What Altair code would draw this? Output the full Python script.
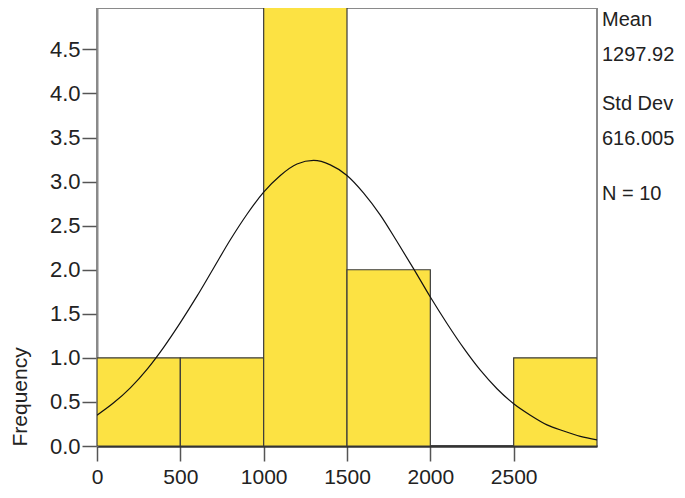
import altair as alt
import pandas as pd

# Histogram bins and frequencies
bin_start = [0, 500, 1000, 1500, 2000, 2500]
bin_end = [500, 1000, 1500, 2000, 2500, 3000]
frequency = [1, 1, 5, 2, 0, 1]

# Normal curve
curve_x = [0, 100, 200, 300, 400, 500, 600, 700, 800, 900, 1000, 1100, 1200, 1300,
           1400, 1500, 1600, 1700, 1800, 1900, 2000, 2100, 2200, 2300, 2400, 2500,
           2600, 2700, 2800, 2900, 3000]
curve_y = [0.35, 0.49, 0.66, 0.87, 1.12, 1.40, 1.70, 2.02, 2.34, 2.63, 2.88, 3.07,
           3.20, 3.24, 3.19, 3.07, 2.87, 2.62, 2.32, 2.01, 1.69, 1.39, 1.11, 0.86,
           0.65, 0.48, 0.35, 0.24, 0.17, 0.11, 0.07]

x_ticks = [0, 500, 1000, 1500, 2000, 2500]
y_ticks = [0.0, 0.5, 1.0, 1.5, 2.0, 2.5, 3.0, 3.5, 4.0, 4.5]

stat_lines = ["Mean", "1297.92", "Std Dev", "616.005", "N = 10"]

FONT = "Liberation Sans"
TEXT = "#222222"

bars_df = pd.DataFrame({"start": bin_start, "end": bin_end, "freq": frequency})
curve_df = pd.DataFrame({"x": curve_x, "y": curve_y})

x_scale = alt.Scale(domain=[0, 3000], nice=False, zero=False)
y_scale = alt.Scale(domain=[0, 4.97], nice=False)

bars = alt.Chart(bars_df).mark_rect(
    fill="#FCE243", stroke="#3a3a3a", strokeWidth=1.2, clip=True
).encode(
    x=alt.X("start:Q", scale=x_scale, axis=alt.Axis(
        values=x_ticks, format="d", title=None, tickSize=15, labelPadding=5,
        labelFontSize=21, labelFont=FONT, labelColor=TEXT,
        domainColor="#333333", domainWidth=2.5, tickColor="#555555", tickWidth=1.5,
        grid=False, labelFlush=False)),
    x2="end:Q",
    y=alt.Y("freq:Q", scale=y_scale, axis=alt.Axis(
        values=y_ticks, format=".1f", title="Frequency", tickSize=15, labelPadding=2,
        labelFontSize=22, labelFont=FONT, labelColor=TEXT,
        domainColor="#8a8a8a", domainWidth=2, tickColor="#555555", tickWidth=1.5,
        grid=False, titleFont=FONT, titleFontSize=21, titleFontWeight="normal",
        titleColor=TEXT, titleAngle=270, titleX=-88, titleY=438,
        titleAlign="left", titleBaseline="top")),
    y2=alt.datum(0),
)

curve = alt.Chart(curve_df).mark_line(
    color="#111111", strokeWidth=1.2, interpolate="monotone", clip=True
).encode(
    x=alt.X("x:Q", scale=x_scale),
    y=alt.Y("y:Q", scale=y_scale),
)

stat_baselines = [18, 53, 102, 137, 192]
texts = []
for label, yb in zip(stat_lines, stat_baselines):
    texts.append(
        alt.Chart(pd.DataFrame({"t": [label]})).mark_text(
            align="left", baseline="alphabetic", font=FONT, fontSize=20, color=TEXT
        ).encode(x=alt.value(505), y=alt.value(yb), text="t:N")
    )

chart = alt.layer(bars, curve, *texts).properties(
    width=500, height=438,
    autosize=alt.AutoSizeParams(type="none"),
    padding={"left": 89, "top": 0, "right": 80, "bottom": 44},
).configure_view(
    stroke="#8a8a8a", strokeWidth=2
)

chart.save("out.html", embed_options={"renderer": "svg", "actions": False})
